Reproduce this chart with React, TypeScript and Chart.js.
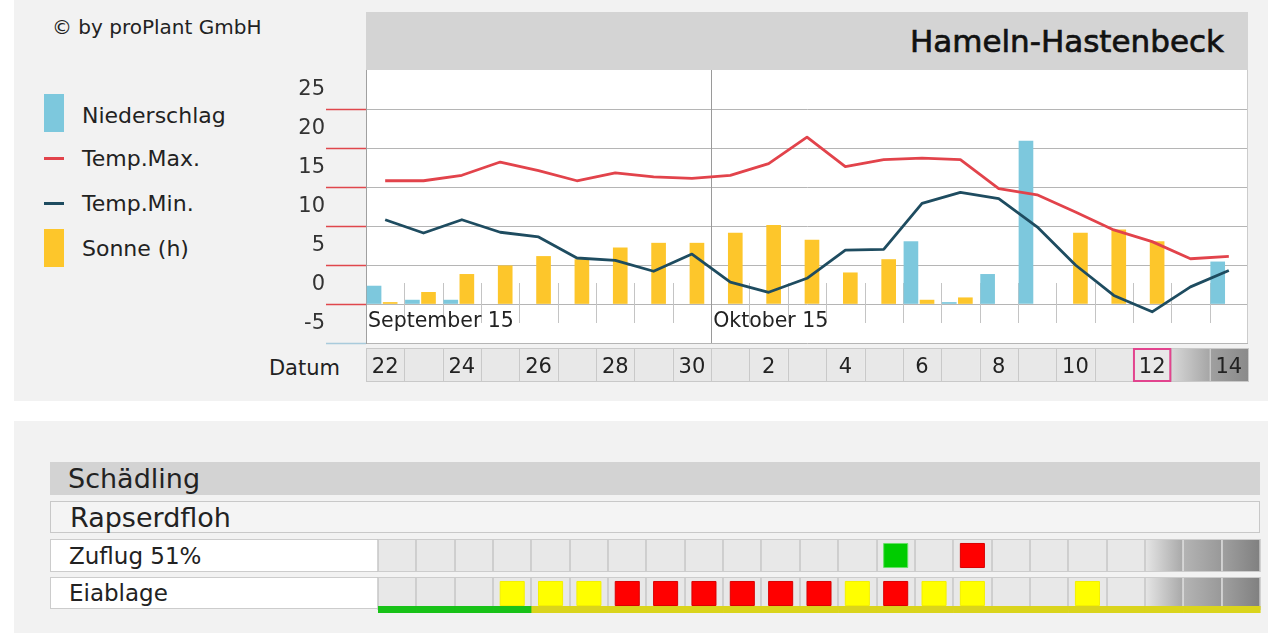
import React, { useEffect, useRef } from "react";
import { Chart, registerables } from "chart.js";

Chart.register(...registerables);

const FONT = "'DejaVu Sans', Verdana, sans-serif";

// ---- categories ----
const days = ["22", "23", "24", "25", "26", "27", "28", "29", "30", "1", "2", "3", "4", "5", "6", "7", "8", "9", "10", "11", "12", "13", "14"];
const monthLabels = ["September 15", "Oktober 15"];
const monthStartDays = ["22", "1"];
const todayDay = "12";
const topShadeDays = ["13", "14"];
const bottomShadeDays = ["12", "13", "14"];

// ---- weather series ----
const precipitation = [2.3, 0.5, 0.5, 0, 0, 0, 0, 0, 0, 0, 0, 0, 0, 0, 8.0, 0.2, 3.8, 20.9, 0, 0, 0, 0, 5.4];
const sunHours = [0.2, 1.5, 3.8, 4.9, 6.1, 5.7, 7.2, 7.8, 7.8, 9.1, 10.1, 8.2, 4.0, 5.7, 0.5, 0.8, 0, 0, 9.1, 9.5, 8.0, 0, 0];
const tempMax = [15.8, 15.8, 16.5, 18.2, 17.1, 15.8, 16.8, 16.3, 16.1, 16.5, 18.0, 21.4, 17.6, 18.5, 18.7, 18.5, 14.8, 14.0, 11.8, 9.5, 8.0, 5.8, 6.1];
const tempMin = [10.8, 9.1, 10.8, 9.2, 8.6, 5.9, 5.6, 4.2, 6.4, 2.8, 1.5, 3.3, 6.9, 7.0, 12.9, 14.3, 13.5, 9.9, 5.0, 1.1, -1.0, 2.2, 4.3];

// ---- pest table ----
const pestRows = ["Zuflug 51%", "Eiablage"];
// 0 = none, 1 = green, 2 = yellow, 3 = red
const zuflugStatus = [0, 0, 0, 0, 0, 0, 0, 0, 0, 0, 0, 0, 0, 1, 0, 3, 0, 0, 0, 0, 0, 0, 0];
const eiablageStatus = [0, 0, 0, 2, 2, 2, 3, 3, 3, 3, 3, 3, 2, 3, 2, 2, 0, 0, 2, 0, 0, 0, 0];
// 1 = green, 2 = yellow
const riskTrend = [1, 1, 1, 1, 2, 2, 2, 2, 2, 2, 2, 2, 2, 2, 2, 2, 2, 2, 2, 2, 2, 2, 2];

const STATUS_FILL = ["", "#00cc00", "#ffff00", "#ff0000"];
const STATUS_BORDER = ["", "#66e066", "#f4f000", "#d80000"];
const TREND_FILL = ["", "#18c218", "#dad41c"];
const TOP_SHADES = [["#d8d8d8", "#a6a6a6"], ["#a0a0a0", "#8a8a8a"]];
const BOTTOM_SHADES = [["#e6e6e6", "#a8a8a8"], ["#b4b4b4", "#999999"], ["#a0a0a0", "#808080"]];

const PRECIP_SHIFT = -0.29;
const SUN_SHIFT = 0.13;

const topDecor = {
  id: "topDecor",
  beforeDraw(chart: any) {
    const { ctx, chartArea: a } = chart;
    const xs = chart.scales.x;
    const n = days.length;
    const w = (a.right - a.left) / n;
    ctx.save();
    ctx.fillStyle = "#ffffff";
    ctx.fillRect(a.left, a.top, a.right - a.left, a.bottom - a.top);
    // date row cells
    const r0 = a.bottom + 5;
    const r1 = a.bottom + 39;
    days.forEach((d, i) => {
      const x0 = xs.getPixelForValue(i) - w / 2;
      let fill: any = "#e8e8e8";
      const k = topShadeDays.indexOf(d);
      if (k >= 0) {
        const g = ctx.createLinearGradient(x0, 0, x0 + w, 0);
        g.addColorStop(0, TOP_SHADES[k][0]);
        g.addColorStop(1, TOP_SHADES[k][1]);
        fill = g;
      }
      ctx.fillStyle = fill;
      ctx.fillRect(x0, r0, w, r1 - r0);
    });
    ctx.strokeStyle = "#c9c9c9";
    ctx.lineWidth = 1;
    ctx.beginPath();
    for (let k = 0; k <= n; k++) {
      const xx = Math.round(a.left + k * w) + 0.5;
      ctx.moveTo(xx, r0);
      ctx.lineTo(xx, r1);
    }
    ctx.moveTo(a.left, r0 + 0.5);
    ctx.lineTo(a.right, r0 + 0.5);
    ctx.moveTo(a.left, r1 - 0.5);
    ctx.lineTo(a.right, r1 - 0.5);
    ctx.stroke();
    const ti = days.indexOf(todayDay);
    const tx0 = xs.getPixelForValue(ti) - w / 2;
    ctx.strokeStyle = "#e2448e";
    ctx.lineWidth = 2;
    ctx.strokeRect(tx0 + 1, r0 + 1, w - 2, r1 - r0 - 2);
    ctx.restore();
  },
  beforeDatasetsDraw(chart: any) {
    const { ctx, chartArea: a } = chart;
    const xs = chart.scales.x;
    const ys = chart.scales.y;
    const n = days.length;
    const w = (a.right - a.left) / n;
    const y0 = ys.getPixelForValue(0);
    const monthIdx = monthStartDays.map((d) => days.indexOf(d));
    ctx.save();
    ctx.lineWidth = 1;
    ctx.strokeStyle = "#c4c4c4";
    ctx.beginPath();
    for (let k = 1; k < n; k++) {
      if (monthIdx.indexOf(k) >= 0) continue;
      const xx = Math.round(xs.getPixelForValue(k) - w / 2) + 0.5;
      ctx.moveTo(xx, y0 - 21);
      ctx.lineTo(xx, y0 + 19);
    }
    ctx.stroke();
    ctx.strokeStyle = "#9a9a9a";
    ctx.beginPath();
    monthIdx.forEach((mi) => {
      if (mi <= 0) return;
      const xx = Math.round(xs.getPixelForValue(mi) - w / 2) + 0.5;
      ctx.moveTo(xx, a.top);
      ctx.lineTo(xx, a.bottom);
    });
    ctx.stroke();
    // right frame
    ctx.strokeStyle = "#cccccc";
    ctx.beginPath();
    ctx.moveTo(a.right - 0.5, a.top);
    ctx.lineTo(a.right - 0.5, a.bottom);
    ctx.stroke();
    ctx.fillStyle = "#222";
    ctx.font = "20.5px " + FONT;
    ctx.textBaseline = "middle";
    ctx.textAlign = "left";
    monthIdx.forEach((mi, j) => {
      const xx = xs.getPixelForValue(mi) - w / 2 + 2;
      ctx.fillText(monthLabels[j], xx, y0 + 18);
    });
    ctx.restore();
  },
};

const bottomDecor = {
  id: "bottomDecor",
  beforeDatasetsDraw(chart: any) {
    const { ctx, chartArea: a } = chart;
    const ys = chart.scales.y;
    const n = days.length;
    const w = (a.right - a.left) / n;
    ctx.save();
    pestRows.forEach((_, r) => {
      const cy = ys.getPixelForValue(r);
      const top = cy - 16.5;
      const h = 33;
      days.forEach((d, i) => {
        const x0 = a.left + i * w;
        let fill: any = "#e8e8e8";
        const k = bottomShadeDays.indexOf(d);
        if (k >= 0) {
          const g = ctx.createLinearGradient(x0, 0, x0 + w, 0);
          g.addColorStop(0, BOTTOM_SHADES[k][0]);
          g.addColorStop(1, BOTTOM_SHADES[k][1]);
          fill = g;
        }
        ctx.fillStyle = fill;
        ctx.fillRect(x0, top, w, h);
      });
      ctx.lineWidth = 1.5;
      for (let k = 0; k <= n; k++) {
        const xx = Math.round(a.left + k * w);
        const shaded = k > 0 && bottomShadeDays.indexOf(days[k - 1]) >= 0 && k < n;
        ctx.strokeStyle = shaded ? "#dedede" : "#c6c6c6";
        ctx.beginPath();
        ctx.moveTo(xx, top);
        ctx.lineTo(xx, top + h);
        ctx.stroke();
      }
      ctx.strokeStyle = "#cccccc";
      ctx.lineWidth = 1;
      ctx.beginPath();
      ctx.moveTo(a.left, top + 0.5);
      ctx.lineTo(a.right, top + 0.5);
      ctx.moveTo(a.left, top + h - 0.5);
      ctx.lineTo(a.right, top + h - 0.5);
      ctx.stroke();
    });
    const cyLast = ys.getPixelForValue(pestRows.length - 1);
    riskTrend.forEach((t, i) => {
      ctx.fillStyle = TREND_FILL[t];
      ctx.fillRect(a.left + i * w, cyLast + 12.5, w + 0.6, 7);
    });
    ctx.restore();
  },
};

const boxText: React.CSSProperties = {
  position: "absolute",
  boxSizing: "border-box",
  display: "flex",
  alignItems: "center",
  fontFamily: FONT,
  color: "#222",
  whiteSpace: "nowrap",
};

export default function App() {
  const topRef = useRef<HTMLCanvasElement>(null);
  const botRef = useRef<HTMLCanvasElement>(null);

  useEffect(() => {
    Chart.defaults.font.family = FONT;
    const top = new Chart(topRef.current as HTMLCanvasElement, {
      type: "bar",
      data: {
        labels: days,
        datasets: [
          {
            type: "line",
            label: "Temp.Max.",
            data: tempMax,
            xAxisID: "x",
            yAxisID: "y",
            borderColor: "#e2434b",
            borderWidth: 2.8,
            pointRadius: 0,
            tension: 0,
            borderJoinStyle: "round",
            order: 0,
          } as any,
          {
            type: "line",
            label: "Temp.Min.",
            data: tempMin,
            xAxisID: "x",
            yAxisID: "y",
            borderColor: "#1e4c60",
            borderWidth: 2.8,
            pointRadius: 0,
            tension: 0,
            borderJoinStyle: "round",
            order: 0,
          } as any,
          {
            type: "bar",
            label: "Niederschlag",
            data: precipitation.map((v, i) => ({ x: i + PRECIP_SHIFT, y: v > 0 ? v : null })),
            xAxisID: "xb",
            yAxisID: "y",
            backgroundColor: "#7dc8dd",
            barThickness: 14,
            grouped: false,
            order: 1,
          } as any,
          {
            type: "bar",
            label: "Sonne (h)",
            data: sunHours.map((v, i) => ({ x: i + SUN_SHIFT, y: v > 0 ? v : null })),
            xAxisID: "xb",
            yAxisID: "y",
            backgroundColor: "#fdc62b",
            barThickness: 14,
            grouped: false,
            order: 1,
          } as any,
        ],
      },
      options: {
        responsive: false,
        animation: false,
        layout: { padding: { left: 0, right: 20, top: 70, bottom: 0 }, autoPadding: false } as any,
        plugins: { legend: { display: false }, tooltip: { enabled: false } },
        scales: {
          x: {
            type: "category",
            labels: days,
            offset: true,
            position: "bottom",
            grid: { display: false, drawTicks: false },
            border: { display: false },
            ticks: {
              autoSkip: false,
              maxRotation: 0,
              padding: 12,
              color: "#222",
              font: { size: 21 },
              callback: (_v: any, i: number) => (i % 2 === 0 ? days[i] : ""),
            },
            afterFit: (s: any) => {
              s.height = 57;
            },
          },
          xb: { type: "linear", min: -0.5, max: 22.5, offset: false, display: false },
          y: {
            type: "linear",
            min: -5,
            max: 30,
            position: "left",
            ticks: {
              stepSize: 5,
              padding: 1,
              labelOffset: -19,
              color: "#333",
              font: { size: 21 },
              callback: (v: any) => (v === 30 ? "" : String(v)),
            },
            grid: {
              color: (c: any) => (c.tick && c.tick.value === 30 ? "rgba(0,0,0,0)" : "#b5b5b5"),
              tickLength: 40,
              tickWidth: 1.5,
              tickColor: (c: any) =>
                c.tick && c.tick.value === 30 ? "rgba(0,0,0,0)" : c.tick && c.tick.value === -5 ? "#a9cbdc" : "#e0474c",
            },
            border: { color: "#a0a0a0" },
            afterFit: (s: any) => {
              s.width = 366;
            },
          },
        } as any,
      },
      plugins: [topDecor],
    });

    const points: any[] = [];
    const fills: string[] = [];
    const borders: string[] = [];
    [zuflugStatus, eiablageStatus].forEach((row, r) => {
      row.forEach((s, i) => {
        if (s > 0) {
          points.push({ x: days[i], y: pestRows[r] });
          fills.push(STATUS_FILL[s]);
          borders.push(STATUS_BORDER[s]);
        }
      });
    });

    const bot = new Chart(botRef.current as HTMLCanvasElement, {
      type: "scatter",
      data: {
        datasets: [
          {
            data: points,
            backgroundColor: fills,
            borderColor: borders,
            borderWidth: 1,
            pointStyle: "rect",
            pointRadius: 17,
            pointHoverRadius: 17,
            clip: false,
          } as any,
        ],
      },
      options: {
        responsive: false,
        animation: false,
        layout: { padding: { left: 378, right: 8, top: 6.5, bottom: 7.5 }, autoPadding: false } as any,
        plugins: { legend: { display: false }, tooltip: { enabled: false } },
        scales: {
          x: { type: "category", labels: days, offset: true, display: false },
          y: { type: "category", labels: pestRows, offset: true, display: false },
        } as any,
      },
      plugins: [bottomDecor],
    });

    return () => {
      top.destroy();
      bot.destroy();
    };
  }, []);

  return (
    <div style={{ position: "absolute", left: 0, top: 0, width: 1268, height: 633, background: "#fff", overflow: "hidden" }}>
      <div style={{ position: "absolute", left: 14, top: 0, width: 1254, height: 401, background: "#f2f2f2" }} />
      <div style={{ position: "absolute", left: 14, top: 421, width: 1254, height: 212, background: "#f2f2f2" }} />

      <div style={{ ...boxText, left: 52, top: 12, height: 30, fontSize: 20, color: "#222" }}>© by proPlant GmbH</div>

      <div
        style={{
          ...boxText,
          left: 366,
          top: 12,
          width: 882,
          height: 58,
          background: "#d4d4d4",
          justifyContent: "flex-end",
          paddingRight: 24,
          fontSize: 31,
          color: "#111",
          WebkitTextStroke: "0.7px #111",
        }}
      >
        Hameln-Hastenbeck
      </div>

      {/* legend */}
      <div style={{ position: "absolute", left: 44, top: 94, width: 20, height: 38, background: "#7dc8dd" }} />
      <div style={{ ...boxText, left: 82, top: 100, height: 30, fontSize: 22 }}>Niederschlag</div>
      <div style={{ position: "absolute", left: 44, top: 157, width: 20, height: 3, background: "#e2434b" }} />
      <div style={{ ...boxText, left: 82, top: 143, height: 30, fontSize: 22 }}>Temp.Max.</div>
      <div style={{ position: "absolute", left: 44, top: 202, width: 20, height: 3, background: "#1e4c60" }} />
      <div style={{ ...boxText, left: 82, top: 188, height: 30, fontSize: 22 }}>Temp.Min.</div>
      <div style={{ position: "absolute", left: 44, top: 229, width: 20, height: 38, background: "#fdc62b" }} />
      <div style={{ ...boxText, left: 82, top: 233, height: 30, fontSize: 22 }}>Sonne (h)</div>

      <div style={{ ...boxText, left: 240, top: 353, width: 100, height: 30, fontSize: 21, justifyContent: "flex-end" }}>Datum</div>

      {/* pest table headers */}
      <div style={{ ...boxText, left: 50, top: 462, width: 1210, height: 33, background: "#d3d3d3", paddingLeft: 18, fontSize: 27 }}>
        Schädling
      </div>
      <div
        style={{
          ...boxText,
          left: 50,
          top: 501,
          width: 1210,
          height: 32,
          background: "#f4f4f4",
          border: "1px solid #c8c8c8",
          paddingLeft: 19,
          fontSize: 27,
        }}
      >
        Rapserdfloh
      </div>
      <div
        style={{ ...boxText, left: 50, top: 539, width: 329, height: 33, background: "#fff", border: "1px solid #cccccc", paddingLeft: 18, fontSize: 23 }}
      >
        {pestRows[0]}
      </div>
      <div
        style={{ ...boxText, left: 50, top: 577, width: 329, height: 32, background: "#fff", border: "1px solid #cccccc", paddingLeft: 18, fontSize: 23 }}
      >
        {pestRows[1]}
      </div>

      <canvas ref={topRef} width={1268} height={400} style={{ position: "absolute", left: 0, top: 0 }} />
      <canvas ref={botRef} width={1268} height={90} style={{ position: "absolute", left: 0, top: 530 }} />
    </div>
  );
}
